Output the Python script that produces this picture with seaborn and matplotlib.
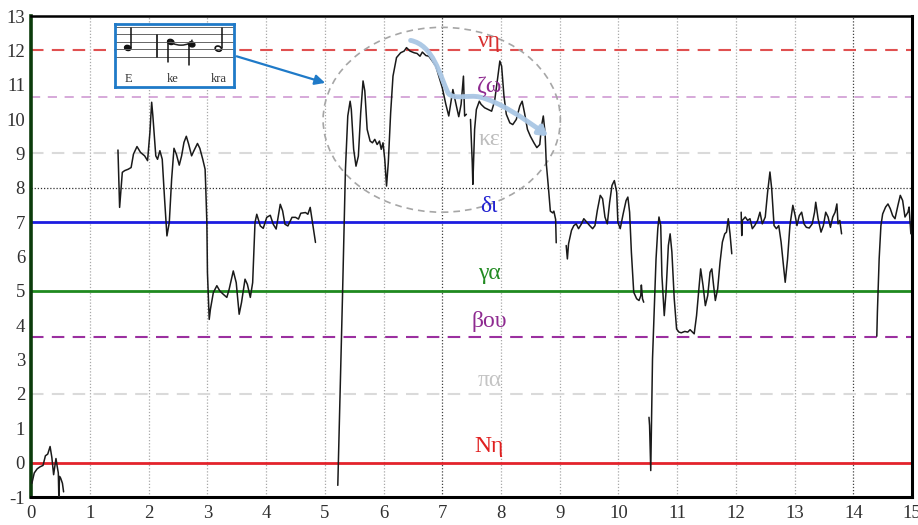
import numpy as np
import pandas as pd
import seaborn as sns
import matplotlib
matplotlib.use("Agg")
import matplotlib.pyplot as plt
from matplotlib.patches import Ellipse, FancyArrowPatch, Arc
from matplotlib.path import Path

# pitch contour, one list per voiced segment (time in s, pitch in semitones)
seg_a_t = [0.01, 0.05, 0.10, 0.15, 0.20, 0.24, 0.28, 0.32, 0.35, 0.38, 0.42, 0.44, 0.46, 0.47, 0.48, 0.50, 0.53, 0.55]
seg_a_p = [-0.6, -0.3, -0.18, -0.12, -0.08, 0.2, 0.25, 0.47, 0.15, -0.35, 0.12, -0.1, -0.3, -1.1, -0.4, -0.45, -0.6, -0.85]

seg_b_t = [1.476, 1.504, 1.55, 1.59, 1.65, 1.70, 1.74, 1.80, 1.86, 1.93, 1.98, 2.02, 2.05, 2.07, 2.12, 2.15,
           2.19, 2.23, 2.27, 2.31, 2.35, 2.39, 2.43, 2.47, 2.52, 2.56, 2.60, 2.64, 2.68, 2.73, 2.77, 2.83,
           2.87, 2.92, 2.96, 2.97, 2.99, 3.00, 3.03, 3.05, 3.10, 3.16, 3.21, 3.27, 3.33, 3.37, 3.44, 3.49,
           3.54, 3.58, 3.64, 3.68, 3.73, 3.77, 3.81, 3.84, 3.90, 3.95, 4.01, 4.07, 4.12, 4.17, 4.24, 4.28,
           4.32, 4.37, 4.44, 4.50, 4.55, 4.59, 4.67, 4.71, 4.75, 4.78, 4.84]
seg_b_p = [9.10, 7.43, 8.45, 8.50, 8.54, 8.59, 8.98, 9.20, 9.03, 8.93, 8.79, 9.61, 10.49, 10.10, 8.93, 8.83,
           9.08, 8.83, 7.67, 6.60, 6.99, 8.25, 9.15, 8.98, 8.66, 8.93, 9.32, 9.50, 9.27, 8.93, 9.08, 9.29,
           9.15, 8.83, 8.54, 8.06, 6.99, 5.53, 4.17, 4.46, 4.95, 5.15, 5.00, 4.90, 4.81, 5.05, 5.58, 5.24,
           4.32, 4.66, 5.34, 5.19, 4.81, 5.24, 6.99, 7.23, 6.89, 6.82, 7.14, 7.20, 6.94, 6.80, 7.52, 7.33,
           6.94, 6.89, 7.14, 7.14, 7.09, 7.26, 7.28, 7.23, 7.43, 7.09, 6.41]

seg_c_t = [5.22, 5.30, 5.35, 5.39, 5.43, 5.45, 5.49, 5.53, 5.57, 5.61, 5.65, 5.68, 5.72, 5.77, 5.81, 5.85,
           5.89, 5.93, 5.96, 5.99, 6.02, 6.05, 6.08, 6.12, 6.16, 6.22, 6.29, 6.35, 6.39, 6.45, 6.52, 6.57,
           6.62, 6.66, 6.72, 6.77, 6.83, 6.89, 6.94, 7.00, 7.06, 7.11, 7.18, 7.24, 7.28, 7.32, 7.36, 7.38,
           7.41]
seg_c_p = [-0.66, 4.84, 8.53, 10.09, 10.52, 10.28, 9.12, 8.63, 8.92, 10.18, 11.11, 10.82, 9.70, 9.36, 9.31, 9.41,
           9.26, 9.36, 9.12, 9.31, 8.83, 8.05, 8.73, 10.18, 11.25, 11.79, 11.93, 11.98, 12.08, 11.98, 11.93, 11.91,
           11.83, 11.95, 11.85, 11.83, 11.69, 11.54, 11.25, 10.91, 10.43, 10.09, 10.86, 10.38, 10.07, 10.43, 11.25, 10.09,
           10.14]

seg_d_t = [7.48, 7.51, 7.52, 7.55, 7.58, 7.63, 7.66, 7.72, 7.78, 7.84, 7.89, 7.94, 7.98, 8.01, 8.05, 8.09,
           8.15, 8.20, 8.26, 8.32, 8.36, 8.40, 8.45, 8.50, 8.56, 8.61, 8.66, 8.69, 8.72, 8.75, 8.77, 8.81,
           8.84, 8.88, 8.90, 8.93, 8.94]
seg_d_p = [9.99, 8.73, 8.10, 9.70, 10.28, 10.52, 10.43, 10.33, 10.28, 10.23, 10.52, 11.16, 11.69, 11.54, 10.67, 10.14,
           9.89, 9.84, 9.99, 10.38, 10.52, 10.18, 9.70, 9.50, 9.31, 9.17, 9.26, 9.80, 10.09, 9.60, 8.73, 7.95,
           7.32, 7.27, 7.32, 7.08, 6.40]

seg_e_t = [9.11, 9.13, 9.15, 9.20, 9.24, 9.28, 9.32, 9.37, 9.41, 9.46, 9.51, 9.56, 9.60, 9.64, 9.69, 9.73,
           9.77, 9.81, 9.85, 9.89, 9.93, 9.97, 9.99, 10.03, 10.08, 10.13, 10.16, 10.19, 10.22, 10.26, 10.31, 10.35,
           10.38, 10.39, 10.41, 10.43]
seg_e_p = [6.32, 5.93, 6.37, 6.76, 6.90, 6.95, 6.81, 6.95, 7.10, 7.00, 6.90, 6.81, 6.90, 7.34, 7.78, 7.68,
           7.15, 6.95, 7.58, 8.07, 8.21, 7.87, 7.00, 6.81, 7.24, 7.63, 7.73, 7.29, 6.13, 4.96, 4.77, 4.72,
           4.86, 5.17, 4.77, 4.67]

seg_f_t = [10.52, 10.53, 10.55, 10.58, 10.61, 10.64, 10.67, 10.69, 10.72, 10.74, 10.78, 10.81, 10.85, 10.88, 10.91, 10.95,
           10.99, 11.03, 11.07, 11.13, 11.18, 11.22, 11.26, 11.29, 11.33, 11.37, 11.40, 11.44, 11.48, 11.52, 11.56, 11.59,
           11.62, 11.65, 11.69, 11.73, 11.77, 11.81, 11.84, 11.87, 11.90, 11.93]
seg_f_p = [1.32, 1.08, -0.23, 3.02, 4.48, 5.93, 6.81, 7.15, 6.90, 5.45, 4.28, 4.96, 6.32, 6.66, 6.13, 4.77,
           3.89, 3.80, 3.78, 3.82, 3.80, 3.87, 3.80, 3.75, 4.28, 5.06, 5.64, 5.16, 4.57, 4.86, 5.54, 5.64,
           5.16, 4.72, 5.06, 5.83, 6.42, 6.66, 6.71, 7.10, 6.66, 6.08]

seg_g_t = [12.09, 12.10, 12.11, 12.16, 12.20, 12.24, 12.28, 12.32, 12.37, 12.41, 12.45, 12.50, 12.54, 12.58, 12.61, 12.65,
           12.69, 12.73, 12.77, 12.81, 12.84, 12.88, 12.92, 12.97, 13.01, 13.04, 13.08, 13.12, 13.16, 13.20, 13.25, 13.30,
           13.34, 13.36, 13.40, 13.45, 13.49, 13.53, 13.57, 13.61, 13.65, 13.69, 13.72, 13.74, 13.77, 13.80]
seg_g_p = [7.29, 6.61, 7.05, 7.15, 7.05, 7.10, 6.81, 6.90, 7.05, 7.29, 6.95, 7.15, 7.87, 8.46, 7.97, 6.90,
           6.81, 6.90, 6.42, 5.74, 5.25, 5.93, 6.90, 7.49, 7.19, 6.90, 7.19, 7.29, 6.95, 6.85, 6.83, 6.95,
           7.29, 7.58, 7.10, 6.71, 6.90, 7.29, 7.15, 6.85, 7.15, 7.29, 7.53, 6.95, 7.05, 6.66]

seg_h_t = [14.40, 14.41, 14.44, 14.47, 14.50, 14.55, 14.59, 14.63, 14.67, 14.71, 14.76, 14.80, 14.84, 14.88, 14.93, 14.95, 14.98]
seg_h_p = [3.68, 4.38, 5.93, 6.90, 7.24, 7.44, 7.53, 7.39, 7.19, 7.10, 7.49, 7.78, 7.63, 7.15, 7.29, 7.44, 6.66]

# scale degrees (byzantine note names) and their pitch levels
note_names = ['Νη', 'πα', 'βου', 'γα', 'δι', 'κε', 'ζω', 'νη']
note_levels = [0, 2, 3.65, 5, 7, 9, 10.65, 12]

x_ticks = list(range(0, 16))
y_ticks = list(range(-1, 14))

segs = [(seg_a_t, seg_a_p), (seg_b_t, seg_b_p), (seg_c_t, seg_c_p), (seg_d_t, seg_d_p),
        (seg_e_t, seg_e_p), (seg_f_t, seg_f_p), (seg_g_t, seg_g_p), (seg_h_t, seg_h_p)]
df = pd.concat([pd.DataFrame({'t': t, 'pitch': p, 'seg': i}) for i, (t, p) in enumerate(segs)],
               ignore_index=True)

sns.set_style("white")
plt.rcParams['font.family'] = ['Liberation Serif', 'DejaVu Serif']
plt.rcParams['axes.unicode_minus'] = False

fig = plt.figure(figsize=(9.18, 5.25), dpi=100)
ax = fig.add_axes([0.0341, 0.0533, 0.9594, 0.9162])

# vertical grid
for xv in range(1, 15):
    c = '#404040' if xv in (7, 14) else '#a8a8a8'
    ax.axvline(xv, color=c, lw=0.9, ls=(0, (1, 1.5)), zorder=1)
ax.axhline(8, color='#303030', lw=0.9, ls=(0, (1, 1.5)), zorder=1)

# note reference lines
line_colors = ['#e3232b', '#dadada', '#9b30a0', '#1f8a1f', '#1c1ce0', '#dadada', '#cc92d0', '#e05050']
line_styles = ['-', (0, (6, 4)), (0, (6, 4)), '-', '-', (0, (6, 4)), (0, (6, 5)), (0, (6, 4))]
line_widths = [2.0, 1.5, 1.5, 2.0, 2.0, 1.5, 1.1, 1.5]
text_colors = ['#e02020', '#c4c4c4', '#8e2a90', '#228b22', '#2222d0', '#bdbdbd', '#8e2a90', '#d83030']
text_offsets = [0.47, 0.38, 0.45, 0.5, 0.45, 0.42, 0.3, 0.27]
for name, lev, lc, ls, lw, tc, off in zip(note_names, note_levels, line_colors, line_styles,
                                          line_widths, text_colors, text_offsets):
    ax.axhline(lev, color=lc, ls=ls, lw=lw, zorder=2)
    ax.text(7.8, lev + off, name, color=tc, fontsize=17, ha='center', va='center', zorder=6)

# pitch contour
sns.lineplot(data=df, x='t', y='pitch', units='seg', estimator=None, sort=False,
             color='#1a1a1a', lw=1.1, ax=ax, zorder=4)

ax.set_xlim(0, 15)
ax.set_ylim(-1, 13)
ax.set_xticks(x_ticks)
ax.set_yticks(y_ticks)
ax.set_xlabel('')
ax.set_ylabel('')
ax.tick_params(axis='both', direction='out', length=4, width=1.2, color='black',
               labelsize=13.5, labelcolor='#303030', pad=1)
ax.tick_params(axis='y', pad=0.5)
ax.tick_params(axis='x', pad=2)
for side in ['top', 'right', 'bottom']:
    ax.spines[side].set_color('black')
    ax.spines[side].set_linewidth(2.2)
ax.spines['top'].set_linewidth(1.8)
ax.spines['left'].set_color('#0b3b0b')
ax.spines['left'].set_linewidth(2.6)

# highlighted region
ax.add_patch(Ellipse((6.99, 9.98), 4.04, 5.38, fill=False, ec='#a6a6a6', lw=1.2,
                     ls=(0, (4, 3)), zorder=3))

# smoothed melodic direction
mel = Path([(6.46, 12.29), (6.85, 12.15), (6.95, 11.3), (7.1, 10.75),
            (7.2, 10.55), (7.45, 10.72), (7.64, 10.64),
            (7.95, 10.52), (8.4, 10.02), (8.8, 9.5)],
           [Path.MOVETO, Path.CURVE4, Path.CURVE4, Path.CURVE4,
            Path.CURVE4, Path.CURVE4, Path.CURVE4,
            Path.CURVE4, Path.CURVE4, Path.CURVE4])
ax.add_patch(FancyArrowPatch(path=mel, arrowstyle='-|>,head_length=5,head_width=3',
                             color='#a9c6e4', lw=3.5, zorder=5, alpha=0.95))

# score excerpt inset
ins = ax.inset_axes([1.426, 10.94, 2.027, 1.84], transform=ax.transData, zorder=7)
ins.set_xlim(115, 234)
ins.set_ylim(88, 25)
ins.set_xticks([])
ins.set_yticks([])
ins.set_facecolor('white')
for s in ins.spines.values():
    s.set_color('#1f7ac8')
    s.set_linewidth(2)
for sy in [28.3, 35.7, 43.3, 50.7, 58.3]:
    ins.plot([115, 233], [sy, sy], color='#666666', lw=0.7)
ins.plot([157, 157], [36, 58], color='#222222', lw=1.3)
ins.add_patch(Ellipse((127.7, 49.3), 6.5, 5, angle=20, color='#111111'))
ins.plot([130.8, 130.8], [49, 29], color='#111111', lw=1.1)
ins.add_patch(Ellipse((170.7, 43.3), 6.5, 5, angle=20, color='#111111'))
ins.plot([167.6, 167.6], [44, 63], color='#111111', lw=1.1)
ins.add_patch(Ellipse((191.7, 45.7), 6.5, 5, angle=20, color='#111111'))
ins.plot([188.6, 188.6], [46, 66.5], color='#111111', lw=1.1)
ins.add_patch(Arc((181, 41), 22, 11, theta1=0, theta2=180, color='#222222', lw=1.1))
ins.add_patch(Ellipse((218.3, 50), 6.5, 5, angle=20, fill=False, ec='#111111', lw=1.2))
ins.plot([221.5, 221.5], [49.5, 29], color='#111111', lw=1.1)
for lx, lt in zip([128, 173, 219], ['E', 'ke', 'kra']):
    ins.text(lx, 80, lt, fontsize=9, ha='center', va='center', color='#333333')

ax.annotate('', xy=(5.05, 11.03), xytext=(3.453, 11.85),
            arrowprops=dict(arrowstyle='-|>,head_length=0.6,head_width=0.3',
                            color='#1f7ac8', lw=1.6), zorder=8)

fig.savefig('out.png', dpi=100)
